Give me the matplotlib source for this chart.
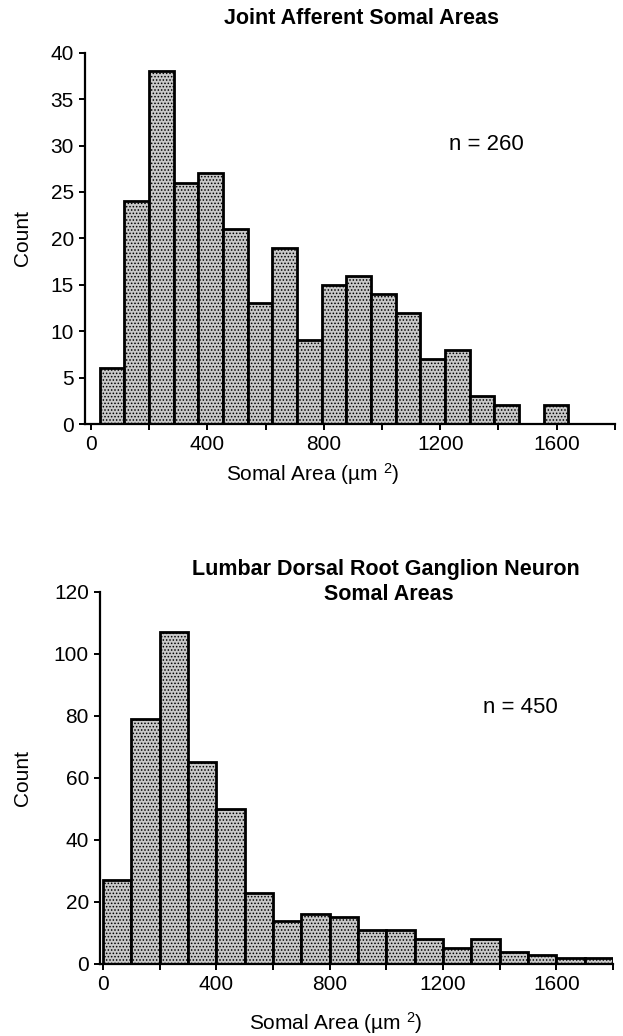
import matplotlib
matplotlib.use("Agg")
import matplotlib.pyplot as plt
import numpy as np

plt.rcParams['font.family'] = ['Liberation Sans', 'DejaVu Sans']
plt.rcParams['mathtext.default'] = 'regular'
plt.rcParams['hatch.linewidth'] = 0.7
plt.rcParams['hatch.color'] = '#444444'

# 数据：关节传入神经元胞体面积
joint_counts = [6, 24, 38, 26, 27, 21, 13, 19, 9, 15, 16, 14, 12, 7, 8, 3, 2, 0, 2]
joint_bin_start = 31
joint_bin_width = 84.7
joint_n = 260

# 数据：腰段背根神经节神经元胞体面积
drg_counts = [27, 79, 107, 65, 50, 23, 14, 16, 15, 11, 11, 8, 5, 8, 4, 3, 2, 2]
drg_bin_start = 0
drg_bin_width = 100
drg_n = 450

x_major = [0, 400, 800, 1200, 1600]
x_minor = [200, 600, 1000, 1400, 1800]

bar_face = '#c8c8c8'
xlabel = 'Somal Area (µm $^{2}$)'


def style_axes(ax, ymax, ystep):
    ax.spines['top'].set_visible(False)
    ax.spines['right'].set_visible(False)
    ax.spines['left'].set_linewidth(1.6)
    ax.spines['bottom'].set_linewidth(1.6)
    ax.set_ylim(0, ymax)
    ax.set_yticks(np.arange(0, ymax + 1, ystep))
    ax.set_xticks(x_major)
    ax.set_xticks(x_minor, minor=True)
    ax.tick_params(axis='both', which='both', direction='out', width=1.4,
                   labelsize=15, pad=4)
    ax.tick_params(axis='both', which='major', length=4)
    ax.tick_params(axis='x', which='minor', length=4)


fig = plt.figure(figsize=(6.23, 10.36), dpi=100)

# 上图
ax1 = fig.add_axes([0.1364, 0.5907, 0.8507, 0.3584])
edges1 = joint_bin_start + joint_bin_width * np.arange(len(joint_counts))
ax1.bar(edges1, joint_counts, width=joint_bin_width, align='edge',
        color=bar_face, edgecolor='black', linewidth=2.0, hatch='.....')
ax1.set_xlim(-20, 1800)
style_axes(ax1, 40, 5)
ax1.set_ylabel('Count', fontsize=15)
ax1.yaxis.set_label_coords(-0.10, 0.5)
ax1.set_xlabel(xlabel, fontsize=15)
ax1.xaxis.set_label_coords(0.43, -0.10)
ax1.text(1230, 30.1, f'n = {joint_n}', fontsize=16, ha='left', va='center')
fig.text(362 / 623, 1 - 18 / 1036, 'Joint Afferent Somal Areas',
         fontsize=15.5, fontweight='bold', ha='center', va='center')

# 下图
ax2 = fig.add_axes([0.1605, 0.0695, 0.8234, 0.3591])
edges2 = drg_bin_start + drg_bin_width * np.arange(len(drg_counts))
ax2.bar(edges2, drg_counts, width=drg_bin_width, align='edge',
        color=bar_face, edgecolor='black', linewidth=2.0, hatch='.....')
ax2.set_xlim(-10, 1800)
style_axes(ax2, 120, 20)
ax2.set_ylabel('Count', fontsize=15)
ax2.yaxis.set_label_coords(-0.133, 0.5)
ax2.set_xlabel(xlabel, fontsize=15)
ax2.xaxis.set_label_coords(0.46, -0.125)
ax2.text(1341, 82.6, f'n = {drg_n}', fontsize=16, ha='left', va='center')
fig.text(386 / 623, 1 - 570 / 1036, 'Lumbar Dorsal Root Ganglion Neuron',
         fontsize=15.5, fontweight='bold', ha='center', va='center')
fig.text(389 / 623, 1 - 594 / 1036, 'Somal Areas',
         fontsize=15.5, fontweight='bold', ha='center', va='center')

fig.savefig('out.png', dpi=100)
